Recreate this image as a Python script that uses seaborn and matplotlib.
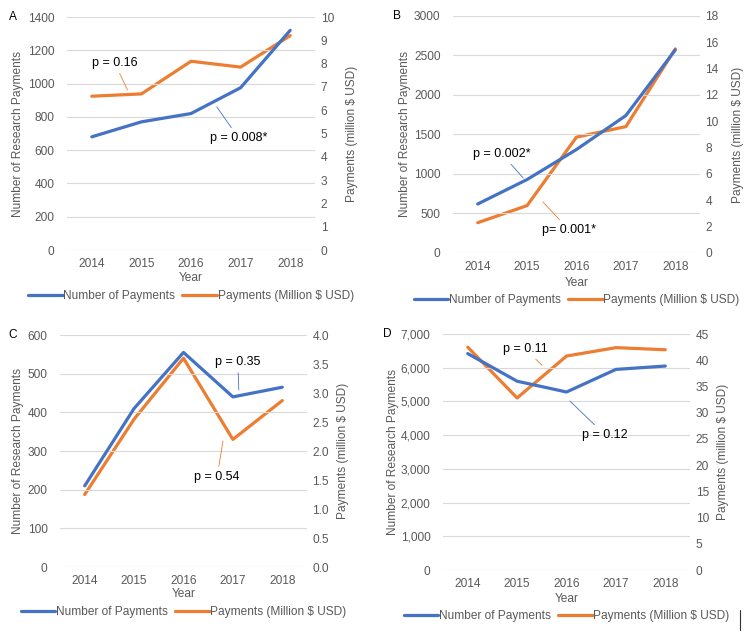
import matplotlib
matplotlib.use("Agg")
import matplotlib.pyplot as plt
import matplotlib.ticker as mticker
from matplotlib.lines import Line2D
import seaborn as sns
import pandas as pd
import numpy as np

# data
years = ["2014", "2015", "2016", "2017", "2018"]

a_count = [680, 770, 820, 975, 1320]
a_money = [6.6, 6.7, 8.1, 7.85, 9.2]
b_count = [620, 930, 1310, 1740, 2570]
b_money = [2.3, 3.6, 8.8, 9.6, 15.5]
c_count = [210, 410, 555, 440, 465]
c_money = [1.25, 2.55, 3.6, 2.2, 2.87]
d_count = [6420, 5600, 5280, 5950, 6050]
d_money = [42.5, 32.8, 40.8, 42.4, 42.0]

blue = "#4472C4"
orange = "#ED7D31"
grey = "#595959"

sns.set_theme(style="white")
plt.rcParams["font.family"] = ["Liberation Sans", "DejaVu Sans"]
plt.rcParams["font.size"] = 8.6

fig = plt.figure(figsize=(7.5, 6.32), dpi=100)

panels = [
    dict(letter="A", count=a_count, money=a_money, pos=[0.0893, 0.6044, 0.3307, 0.3687],
         lmax=1400, lstep=200, rmax=10, rstep=1, rfmt="{x:.0f}", lfmt="{x:.0f}",
         notes=[("p = 0.16", (0.72, 962), (0.46, 1124), orange),
                ("p = 0.008*", (2.52, 860), (2.96, 673), blue)],
         ylab_l=18, ylab_r=352, year_y=278, leg_y=296, letter_xy=(13, 17)),
    dict(letter="B", count=b_count, money=b_money, pos=[0.604, 0.5997, 0.3293, 0.375],
         lmax=3000, lstep=500, rmax=18, rstep=2, rfmt="{x:.0f}", lfmt="{x:.0f}",
         notes=[("p = 0.002*", (0.92, 950), (0.49, 1253), blue),
                ("p= 0.001*", (1.32, 646), (1.85, 291), orange)],
         ylab_l=405, ylab_r=738, year_y=283, leg_y=300, letter_xy=(397, 16)),
    dict(letter="C", count=c_count, money=c_money, pos=[0.08, 0.1028, 0.3293, 0.3671],
         lmax=600, lstep=100, rmax=4, rstep=0.5, rfmt="{x:.1f}", lfmt="{x:.0f}",
         notes=[("p = 0.35", (3.12, 458), (3.10, 530), blue),
                ("p = 0.54", (2.80, 326), (2.68, 233), orange)],
         ylab_l=18, ylab_r=343, year_y=594, leg_y=612, letter_xy=(13, 335)),
    dict(letter="D", count=d_count, money=d_money, pos=[0.5907, 0.0981, 0.3293, 0.3734],
         lmax=7000, lstep=1000, rmax=45, rstep=5, rfmt="{x:.0f}", lfmt="{x:,.0f}",
         notes=[("p = 0.11", (1.50, 6080), (1.16, 6555), orange),
                ("p = 0.12", (2.07, 5012), (2.78, 4004), blue)],
         ylab_l=393, ylab_r=723, year_y=599, leg_y=616, letter_xy=(387, 334)),
]

W, H = 750, 632

for p in panels:
    ax = fig.add_axes(p["pos"])
    ax2 = ax.twinx()
    df = pd.DataFrame({"Year": years, "count": p["count"], "money": p["money"]})

    sns.lineplot(data=df, x="Year", y="count", ax=ax, color=blue, lw=2.3,
                 label="Number of Payments", legend=False)
    sns.lineplot(data=df, x="Year", y="money", ax=ax2, color=orange, lw=2.3,
                 label="Payments (Million $ USD)", legend=False)

    ax.set_xlim(-0.5, 4.5)
    ax.set_ylim(0, p["lmax"])
    ax.set_yticks(np.arange(0, p["lmax"] + 1, p["lstep"]))
    ax.yaxis.set_major_formatter(mticker.StrMethodFormatter(p["lfmt"]))
    ax2.set_ylim(0, p["rmax"])
    ax2.set_yticks(np.arange(0, p["rmax"] + 0.01, p["rstep"]))
    ax2.yaxis.set_major_formatter(mticker.StrMethodFormatter(p["rfmt"]))

    ax.grid(axis="y", color="#D9D9D9", lw=0.8)
    ax.set_axisbelow(True)
    for a in (ax, ax2):
        for s in a.spines.values():
            s.set_visible(False)
        a.tick_params(length=0, colors=grey, labelsize=8.6)
    ax.tick_params(axis="y", pad=9)
    ax.tick_params(axis="x", pad=6)
    ax2.tick_params(axis="y", pad=4)

    ax.set_xlabel("")
    ax.set_ylabel("")
    ax2.set_ylabel("")
    ax.set_zorder(ax2.get_zorder() + 1)
    ax.patch.set_visible(False)

    # axis titles in figure pixels
    fig.text(p["ylab_l"] / W, (p["pos"][1] + p["pos"][3] / 2), "Number of Research Payments",
             rotation=90, ha="center", va="center", color=grey, fontsize=8.6)
    fig.text(p["ylab_r"] / W, (p["pos"][1] + p["pos"][3] / 2), "Payments (million $ USD)",
             rotation=90, ha="center", va="center", color=grey, fontsize=8.6)
    fig.text(p["pos"][0] + p["pos"][2] / 2, 1 - p["year_y"] / H, "Year",
             ha="center", va="center", color=grey, fontsize=8.6)
    fig.text(p["letter_xy"][0] / W, 1 - p["letter_xy"][1] / H, p["letter"],
             ha="center", va="center", color="black", fontsize=8.6)

    for txt, xy, xyt, col in p["notes"]:
        ax.annotate(txt, xy=xy, xytext=xyt, ha="center", va="center", fontsize=9,
                    color="black",
                    arrowprops=dict(arrowstyle="-", color=col, lw=0.6,
                                    shrinkA=1, shrinkB=0))

    h1, l1 = ax.get_legend_handles_labels()
    h2, l2 = ax2.get_legend_handles_labels()
    ax.legend(h1 + h2, l1 + l2, loc="center",
              bbox_to_anchor=(p["pos"][0] + p["pos"][2] / 2, 1 - p["leg_y"] / H),
              bbox_transform=fig.transFigure, ncol=2, frameon=False,
              handlelength=2.9, handletextpad=0.05, columnspacing=0.6,
              fontsize=8.6, labelcolor=grey)

# small stray mark at the bottom right of the source image
fig.add_artist(Line2D([740 / W, 740 / W], [1 - 610 / H, 1 - 630 / H],
                      transform=fig.transFigure, color="#333333", lw=0.8))

fig.savefig("out.png", dpi=100)
